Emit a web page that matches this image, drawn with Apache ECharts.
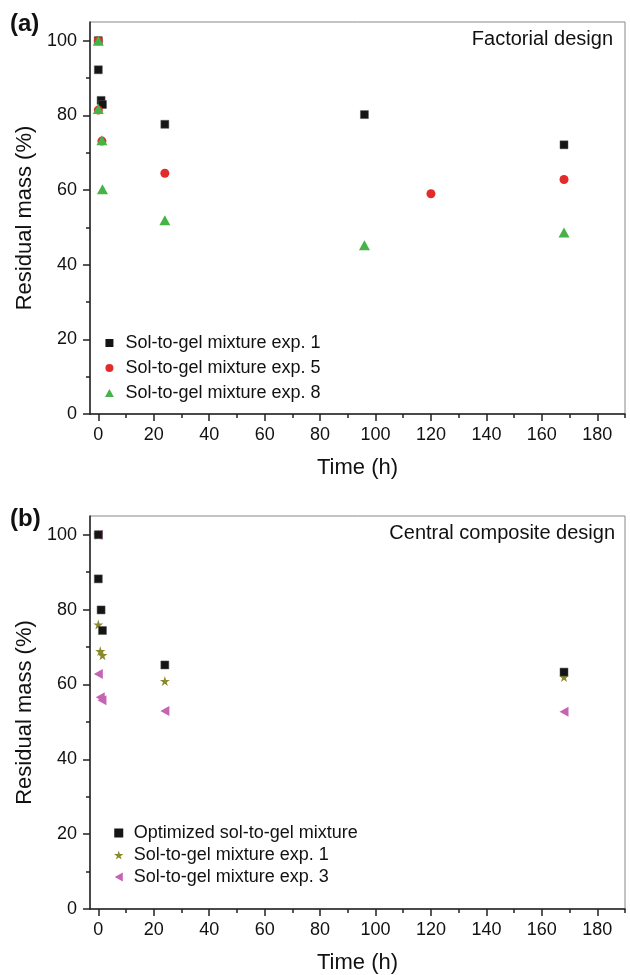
<!DOCTYPE html>
<html>
<head>
<meta charset="utf-8">
<script src="https://cdn.jsdelivr.net/npm/echarts@6/dist/echarts.min.js"></script>
<style>
  html, body { margin: 0; padding: 0; background: #fff; }
  #main { width: 630px; height: 975px; }
</style>
</head>
<body>
<div id="main"></div>
<script>
// tick labels
const xTicks = [0, 20, 40, 60, 80, 100, 120, 140, 160, 180];
const xMinor = [10, 30, 50, 70, 90, 110, 130, 150, 170, 190];
const yTicks = [0, 20, 40, 60, 80, 100];
const yMinor = [10, 30, 50, 70, 90];

// (a) Factorial design
const timeA1 = [0, 0, 1, 1.5, 24, 96, 168];
const massA1 = [100, 92.2, 84, 82.9, 77.6, 80.2, 72.1];
const timeA5 = [0, 0, 1.3, 24, 120, 168];
const massA5 = [100, 81.4, 73.1, 64.5, 59, 62.8];
const timeA8 = [0, 0, 1.3, 1.5, 24, 96, 168];
const massA8 = [100, 81.7, 73.3, 60.2, 51.9, 45.2, 48.6];

// (b) Central composite design
const timeBopt = [0, 0, 1, 1.5, 24, 168];
const massBopt = [100, 88.2, 79.9, 74.4, 65.2, 63.3];
const timeB1 = [0, 0, 0.7, 1.5, 24, 168];
const massB1 = [100, 76, 68.9, 67.8, 60.9, 62];
const timeB3 = [0, 0, 0.7, 1.3, 24, 168];
const massB3 = [100, 62.8, 56.6, 55.8, 52.9, 52.7];

const FONT = '"Liberation Sans", Arial, sans-serif';
const SQUARE = 'path://M0,0H100V100H0Z';
const UP_TRI = 'path://M50,0L100,90L0,90Z';
const STAR = 'path://M50,0L61,35L98,35L68,57L79,91L50,70L21,91L32,57L2,35L39,35Z';
const LEFT_TRI = 'path://M0,50L90,0L90,100Z';

function pts(xs, ys) {
    return xs.map((x, i) => [x, ys[i]]);
}

function mainX(grid) {
    return {
        gridIndex: grid, type: 'value', min: -3, max: 190,
        axisLine: { show: true, onZero: false, lineStyle: { color: '#222', width: 1.5 } },
        axisTick: { show: true, length: 7, customValues: xTicks, lineStyle: { color: '#222', width: 1.5 } },
        axisLabel: { customValues: xTicks, fontSize: 18, color: '#111', margin: 12, fontFamily: FONT },
        splitLine: { show: false },
        name: 'Time (h)', nameLocation: 'middle', nameGap: 43,
        nameTextStyle: { fontSize: 22, color: '#111', fontFamily: FONT }
    };
}
function minorX(grid) {
    return {
        gridIndex: grid, type: 'value', min: -3, max: 190, position: 'bottom',
        axisLine: { show: false, onZero: false },
        axisTick: { show: true, length: 4, customValues: xMinor, lineStyle: { color: '#222', width: 1.5 } },
        axisLabel: { show: false },
        splitLine: { show: false }
    };
}
function mainY(grid) {
    return {
        gridIndex: grid, type: 'value', min: 0, max: 105,
        axisLine: { show: true, onZero: false, lineStyle: { color: '#222', width: 1.5 } },
        axisTick: { show: true, length: 7, customValues: yTicks, lineStyle: { color: '#222', width: 1.5 } },
        axisLabel: { customValues: yTicks, fontSize: 18, color: '#111', margin: 13, fontFamily: FONT },
        splitLine: { show: false },
        name: 'Residual mass (%)', nameLocation: 'middle', nameGap: 48,
        nameTextStyle: { fontSize: 22, color: '#111', fontFamily: FONT }
    };
}
function minorY(grid) {
    return {
        gridIndex: grid, type: 'value', min: 0, max: 105, position: 'left',
        axisLine: { show: false, onZero: false },
        axisTick: { show: true, length: 4, customValues: yMinor, lineStyle: { color: '#222', width: 1.5 } },
        axisLabel: { show: false },
        splitLine: { show: false }
    };
}

const chart = echarts.init(document.getElementById('main'));

const option = {
    backgroundColor: '#fff',
    animation: false,
    textStyle: { fontFamily: FONT },
    title: [
        { text: '(a)', left: 10, top: 12, padding: 0, textStyle: { fontSize: 24, fontWeight: 'bold', color: '#111', fontFamily: FONT } },
        { text: 'Factorial design', right: 17, top: 29, padding: 0, textStyle: { fontSize: 20, fontWeight: 'normal', color: '#111', fontFamily: FONT } },
        { text: '(b)', left: 10, top: 507, padding: 0, textStyle: { fontSize: 24, fontWeight: 'bold', color: '#111', fontFamily: FONT } },
        { text: 'Central composite design', right: 15, top: 523, padding: 0, textStyle: { fontSize: 20, fontWeight: 'normal', color: '#111', fontFamily: FONT } }
    ],
    legend: [
        {
            data: [
                { name: 'Sol-to-gel mixture exp. 1', icon: SQUARE, itemStyle: { borderWidth: 0 } },
                { name: 'Sol-to-gel mixture exp. 5', icon: 'circle' },
                { name: 'Sol-to-gel mixture exp. 8', icon: UP_TRI }
            ],
            orient: 'vertical', left: 105, top: 334, padding: 0,
            itemWidth: 22, itemHeight: 8, itemGap: 7,
            textStyle: { fontSize: 18, color: '#111', fontFamily: FONT }
        },
        {
            data: [
                { name: 'Optimized sol-to-gel mixture', icon: SQUARE, itemStyle: { borderWidth: 0 } },
                { name: 'Sol-to-gel mixture exp. 1 ', icon: STAR },
                { name: 'Sol-to-gel mixture exp. 3', icon: LEFT_TRI }
            ],
            orient: 'vertical', left: 114, top: 824, padding: 0,
            itemWidth: 20, itemHeight: 9, itemGap: 4,
            textStyle: { fontSize: 18, color: '#111', fontFamily: FONT }
        }
    ],
    grid: [
        { left: 90, right: 5, top: 22, height: 392, show: true, borderColor: '#888', borderWidth: 1, backgroundColor: 'transparent' },
        { left: 90, right: 5, top: 516, height: 393, show: true, borderColor: '#888', borderWidth: 1, backgroundColor: 'transparent' }
    ],
    xAxis: [mainX(0), minorX(0), mainX(1), minorX(1)],
    yAxis: [mainY(0), minorY(0), mainY(1), minorY(1)],
    series: [
        {
            name: 'Sol-to-gel mixture exp. 1', type: 'scatter', xAxisIndex: 0, yAxisIndex: 0,
            symbol: 'rect', symbolSize: 8,
            itemStyle: { color: '#151515', borderColor: '#555', borderWidth: 0.5, opacity: 1 },
            data: pts(timeA1, massA1)
        },
        {
            name: 'Sol-to-gel mixture exp. 5', type: 'scatter', xAxisIndex: 0, yAxisIndex: 0,
            symbol: 'circle', symbolSize: 9,
            itemStyle: { color: '#e22b2b', opacity: 1 },
            data: pts(timeA5, massA5)
        },
        {
            name: 'Sol-to-gel mixture exp. 8', type: 'scatter', xAxisIndex: 0, yAxisIndex: 0,
            symbol: 'triangle', symbolSize: [11, 10],
            itemStyle: { color: '#46b347', opacity: 1 },
            data: pts(timeA8, massA8)
        },
        {
            name: 'Sol-to-gel mixture exp. 3', type: 'scatter', xAxisIndex: 2, yAxisIndex: 2,
            symbol: LEFT_TRI, symbolSize: [9, 10],
            itemStyle: { color: '#c664b4', opacity: 1 },
            data: pts(timeB3, massB3)
        },
        {
            name: 'Sol-to-gel mixture exp. 1 ', type: 'scatter', xAxisIndex: 2, yAxisIndex: 2,
            symbol: STAR, symbolSize: 10,
            itemStyle: { color: '#8a8a2c', opacity: 1 },
            data: pts(timeB1, massB1)
        },
        {
            name: 'Optimized sol-to-gel mixture', type: 'scatter', xAxisIndex: 2, yAxisIndex: 2,
            symbol: 'rect', symbolSize: 8,
            itemStyle: { color: '#151515', borderColor: '#555', borderWidth: 0.5, opacity: 1 },
            data: pts(timeBopt, massBopt)
        }
    ]
};

chart.setOption(option);
</script>
</body>
</html>
